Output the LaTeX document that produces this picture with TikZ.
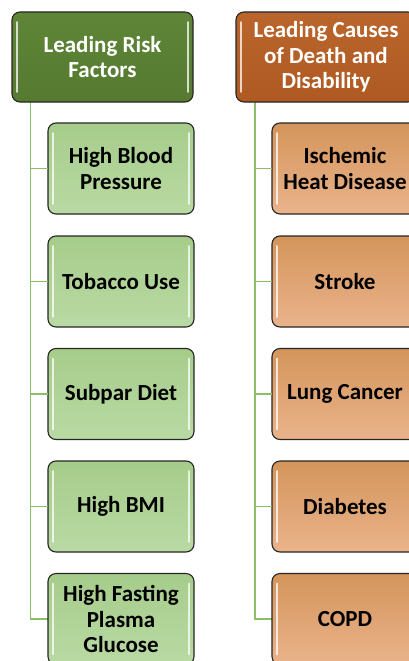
\documentclass[tikz,border=0pt]{standalone}
\usepackage{fontspec}
\setmainfont{Carlito}
\usetikzlibrary{calc}
\definecolor{hdgreen}{HTML}{5E8538}
\definecolor{hdgreenB}{HTML}{557A30}
\definecolor{hdorange}{HTML}{B9652C}
\definecolor{hdorangeB}{HTML}{AE5A22}
\definecolor{chgreenT}{HTML}{A6CC8A}
\definecolor{chgreenB}{HTML}{B9DAA4}
\definecolor{chorangeT}{HTML}{D4955B}
\definecolor{chorangeB}{HTML}{EAB38B}
\definecolor{conn}{HTML}{8CC068}
\definecolor{edge}{HTML}{262626}
\tikzset{
  boxbase/.style={draw=edge, line width=1.1pt, rounded corners=8pt, align=center,
    font=\fontsize{23}{25.5}\selectfont\bfseries, inner sep=0pt,
    path picture={
      \draw[white, opacity=0.75, line width=1.6pt, line cap=round]
        ([xshift=5pt,yshift=-10pt]path picture bounding box.north west) --
        ([xshift=5pt,yshift=10pt]path picture bounding box.south west);
      \draw[white, opacity=0.75, line width=1.6pt, line cap=round]
        ([xshift=-5pt,yshift=-10pt]path picture bounding box.north east) --
        ([xshift=-5pt,yshift=10pt]path picture bounding box.south east);
    }},
  ghead/.style={boxbase, top color=hdgreen, bottom color=hdgreenB, text=white,
    minimum width=181pt, minimum height=90pt},
  ohead/.style={boxbase, top color=hdorange, bottom color=hdorangeB, text=white,
    minimum width=180pt, minimum height=90pt},
  gchild/.style={boxbase, top color=chgreenT, bottom color=chgreenB, text=black,
    minimum width=146pt, minimum height=91pt},
  ochild/.style={boxbase, top color=chorangeT, bottom color=chorangeB, text=black,
    minimum width=146pt, minimum height=91pt},
  link/.style={draw=conn, line width=1.8pt}
}
\begin{document}
\begin{tikzpicture}[x=1pt,y=-1pt]
\useasboundingbox (0,0) rectangle (409,661);
\clip (0,0) rectangle (409,661);
\fill[white] (0,0) rectangle (409,661);
% connector anchors
\coordinate (lc) at (30.5,102);
\coordinate (rc) at (255,102);
\draw[link] (lc) |- (48,619);
\draw[link] (rc) |- (272,619);
% left column
\node[ghead] (lh) at (102.5,57) {Leading Risk\\Factors};
\node[gchild] (l1) at (121,168.5) {High Blood\\Pressure};
\node[gchild] (l2) at (121,281.5) {Tobacco Use};
\node[gchild] (l3) at (121,394) {Subpar Diet};
\node[gchild] (l4) at (121,506.5) {High BMI};
\node[gchild] (l5) at (121,619) {High Fasting\\Plasma\\Glucose};
% right column
\node[ohead] (rh) at (326,57) {Leading Causes\\of Death and\\Disability};
\node[ochild] (r1) at (345,168.5) {Ischemic\\Heat Disease};
\node[ochild] (r2) at (345,281.5) {Stroke};
\node[ochild] (r3) at (345,394) {Lung Cancer};
\node[ochild] (r4) at (345,506.5) {Diabetes};
\node[ochild] (r5) at (345,619) {COPD};
% horizontal connectors
\foreach \n in {l1,l2,l3,l4} \draw[link] (lc |- \n.west) -- ([xshift=0.5pt]\n.west);
\foreach \n in {r1,r2,r3,r4} \draw[link] (rc |- \n.west) -- ([xshift=0.5pt]\n.west);
\end{tikzpicture}
\end{document}
